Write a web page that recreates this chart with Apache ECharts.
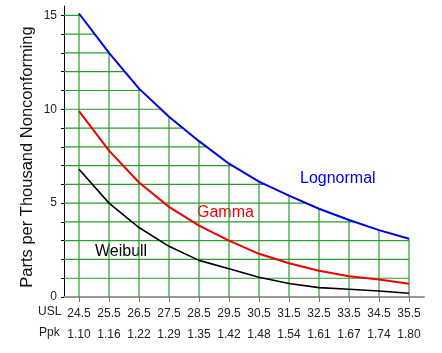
<!DOCTYPE html>
<html>
<head>
<meta charset="utf-8">
<script src="https://cdn.jsdelivr.net/npm/echarts@6/dist/echarts.min.js"></script>
<style>
html,body{margin:0;padding:0;background:#fff;}
#c{width:442px;height:353px;}
</style>
</head>
<body>
<div id="c"></div>
<script>
// ---- data ----
var usl = [24.5, 25.5, 26.5, 27.5, 28.5, 29.5, 30.5, 31.5, 32.5, 33.5, 34.5, 35.5];
var ppk = ['1.10', '1.16', '1.22', '1.29', '1.35', '1.42', '1.48', '1.54', '1.61', '1.67', '1.74', '1.80'];
var lognormal = [15.1, 13.0, 11.1, 9.6, 8.3, 7.1, 6.15, 5.4, 4.7, 4.1, 3.56, 3.1];
var gamma = [9.9, 7.8, 6.1, 4.8, 3.8, 3.0, 2.3, 1.8, 1.4, 1.1, 0.93, 0.7];
var weibull = [6.8, 5.0, 3.7, 2.7, 1.95, 1.5, 1.05, 0.72, 0.5, 0.41, 0.32, 0.2];
var yTickValues = [0, 1, 2, 3, 4, 5, 6, 7, 8, 9, 10, 11, 12, 13, 14, 15];
var yLabelValues = [0, 5, 10, 15];
var gridLevels = [1, 2, 3, 4, 5, 6, 7, 8, 9, 10, 11, 12, 13, 14, 15];

// ---- helpers ----
function pairs(ys) { return usl.map(function (x, i) { return [x, ys[i]]; }); }
function crossX(level) {
  if (level >= lognormal[0]) return usl[0];
  for (var i = 0; i < lognormal.length - 1; i++) {
    var a = lognormal[i], b = lognormal[i + 1];
    if (a >= level && level >= b) {
      return usl[i] + (a - level) / (a - b) * (usl[i + 1] - usl[i]);
    }
  }
  return usl[usl.length - 1];
}
var hData = gridLevels.map(function (L) { return [crossX(L), L]; });
var vData = pairs(lognormal);
var GREEN = '#2a9d2a';
var FONT = 'Liberation Sans, Arial, sans-serif';

var chart = echarts.init(document.getElementById('c'));
chart.setOption({
  animation: false,
  backgroundColor: '#fff',
  grid: { left: 64, right: 18, top: 6, bottom: 56 },
  xAxis: {
    type: 'value', min: 24, max: 36,
    axisLine: { show: true, lineStyle: { color: '#999', width: 2 } },
    axisTick: { show: true, customValues: usl, length: 5, lineStyle: { color: '#777', width: 1 } },
    splitLine: { show: false },
    axisLabel: {
      customValues: usl, margin: 6, color: '#222', fontSize: 12, fontFamily: FONT,
      lineHeight: 21,
      formatter: function (v) {
        var i = usl.indexOf(v);
        return v.toFixed(1) + '\n' + (i >= 0 ? ppk[i] : '');
      }
    }
  },
  yAxis: {
    type: 'value', min: 0, max: 15.5,
    axisLine: { show: true, lineStyle: { color: '#000', width: 1 } },
    axisTick: { show: true, customValues: yTickValues, length: 3, lineStyle: { color: '#000' } },
    splitLine: { show: false },
    axisLabel: { customValues: yLabelValues, margin: 7, color: '#222', fontSize: 12, fontFamily: FONT }
  },
  graphic: [
    { type: 'text', x: 27, y: 157, rotation: Math.PI / 2,
      style: { text: 'Parts per Thousand Nonconforming', fill: '#111', font: '16.5px ' + FONT,
        align: 'center', verticalAlign: 'middle' } },
    { type: 'text', left: 38, top: 306, style: { text: 'USL', fill: '#222', font: '12px ' + FONT } },
    { type: 'text', left: 39, top: 327, style: { text: 'Ppk', fill: '#222', font: '12px ' + FONT } },
    { type: 'text', left: 300, top: 171, style: { text: 'Lognormal', fill: '#0000ee', font: '16px ' + FONT } },
    { type: 'text', left: 197, top: 205, style: { text: 'Gamma', fill: '#ee0000', font: '16px ' + FONT } },
    { type: 'text', left: 95, top: 244, style: { text: 'Weibull', fill: '#000', font: '16px ' + FONT } }
  ],
  series: [
    {
      type: 'custom', z: 1, silent: true,
      data: hData, encode: { x: 0, y: 1 },
      renderItem: function (params, api) {
        var p0 = api.coord([24, api.value(1)]);
        var p1 = api.coord([api.value(0), api.value(1)]);
        return { type: 'line', shape: { x1: params.coordSys.x, y1: p0[1], x2: p1[0], y2: p1[1] },
          style: { stroke: GREEN, lineWidth: 1.2 } };
      }
    },
    {
      type: 'custom', z: 1, silent: true,
      data: vData, encode: { x: 0, y: 1 },
      renderItem: function (params, api) {
        var p0 = api.coord([api.value(0), 0]);
        var p1 = api.coord([api.value(0), api.value(1)]);
        return { type: 'line', shape: { x1: p0[0], y1: p0[1], x2: p1[0], y2: p1[1] },
          style: { stroke: GREEN, lineWidth: 1.2 } };
      }
    },
    { name: 'Lognormal', type: 'line', z: 3, data: pairs(lognormal), showSymbol: false,
      lineStyle: { color: '#0000e6', width: 2 } },
    { name: 'Gamma', type: 'line', z: 3, data: pairs(gamma), showSymbol: false,
      lineStyle: { color: '#ee0000', width: 2 } },
    { name: 'Weibull', type: 'line', z: 3, data: pairs(weibull), showSymbol: false,
      lineStyle: { color: '#000', width: 1.6 } }
  ]
});
</script>
</body>
</html>
